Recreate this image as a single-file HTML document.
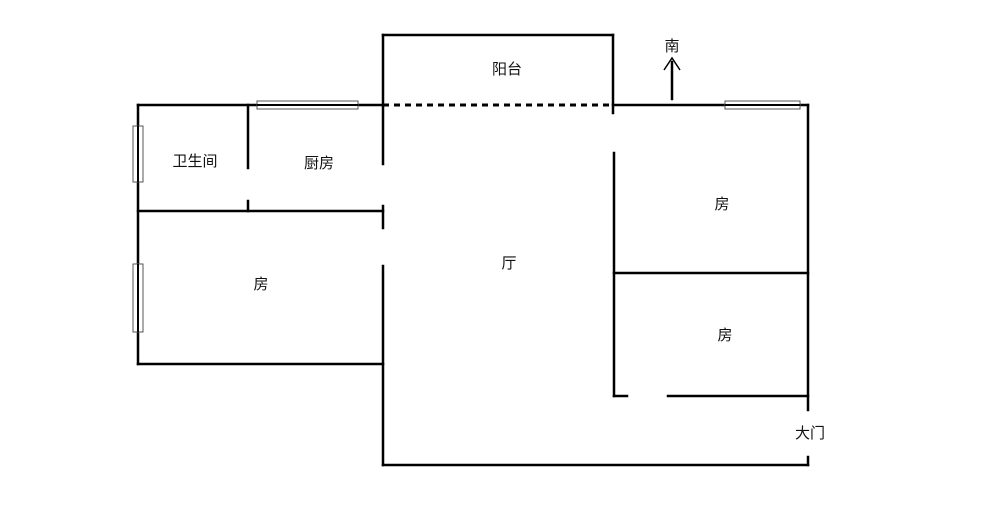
<!DOCTYPE html>
<html><head><meta charset="utf-8"><style>
html,body{margin:0;padding:0;background:#fff;}
svg{display:block;}
text{font-family:"Liberation Sans","Noto Sans CJK SC",sans-serif;font-size:15px;fill:#111;text-anchor:middle;}
</style></head><body>
<svg width="1000" height="506" viewBox="0 0 1000 506">
<g stroke="#000" stroke-width="2.5" fill="none" stroke-linecap="square">
<line x1="138" y1="105" x2="383" y2="105"/>
<line x1="138" y1="105" x2="138" y2="364"/>
<line x1="138" y1="364" x2="383" y2="364"/>
<line x1="138" y1="211" x2="383" y2="211"/>
<line x1="248" y1="105" x2="248" y2="168"/>
<line x1="248" y1="201" x2="248" y2="211"/>
<line x1="383" y1="35" x2="383" y2="164"/>
<line x1="383" y1="206" x2="383" y2="228"/>
<line x1="383" y1="266" x2="383" y2="465"/>
<line x1="383" y1="35" x2="613" y2="35"/>
<line x1="613" y1="35" x2="613" y2="113"/>
<line x1="613" y1="105" x2="808" y2="105"/>
<line x1="808" y1="105" x2="808" y2="410"/>
<line x1="808" y1="457" x2="808" y2="465"/>
<line x1="383" y1="465" x2="808" y2="465"/>
<line x1="614" y1="153" x2="614" y2="396"/>
<line x1="614" y1="396" x2="627" y2="396"/>
<line x1="668" y1="396" x2="808" y2="396"/>
<line x1="614" y1="273" x2="808" y2="273"/>
<line x1="672" y1="62" x2="672" y2="99"/>
</g>
<line x1="383" y1="105" x2="613" y2="105" stroke="#000" stroke-width="3" stroke-dasharray="6,5"/>
<polyline points="664,70 672,58 680,70" fill="none" stroke="#000" stroke-width="1.5"/>
<g fill="#fff" stroke="#555" stroke-width="1">
<rect x="257" y="101" width="101" height="8"/>
<rect x="725" y="101" width="75" height="8"/>
<rect x="133" y="126" width="10" height="56"/>
<rect x="133" y="264" width="10" height="68"/>
</g>
<g stroke="#000" stroke-width="2"><line x1="257" y1="105" x2="358" y2="105"/><line x1="725" y1="105" x2="800" y2="105"/><line x1="138" y1="126" x2="138" y2="182"/><line x1="138" y1="264" x2="138" y2="332"/></g>
<text x="507" y="74">阳台</text>
<text x="672" y="51">南</text>
<text x="195" y="166">卫生间</text>
<text x="319" y="168">厨房</text>
<text x="509" y="268">厅</text>
<text x="261" y="289">房</text>
<text x="722" y="209">房</text>
<text x="725" y="340">房</text>
<text x="810" y="438">大门</text>
</svg>
</body></html>
